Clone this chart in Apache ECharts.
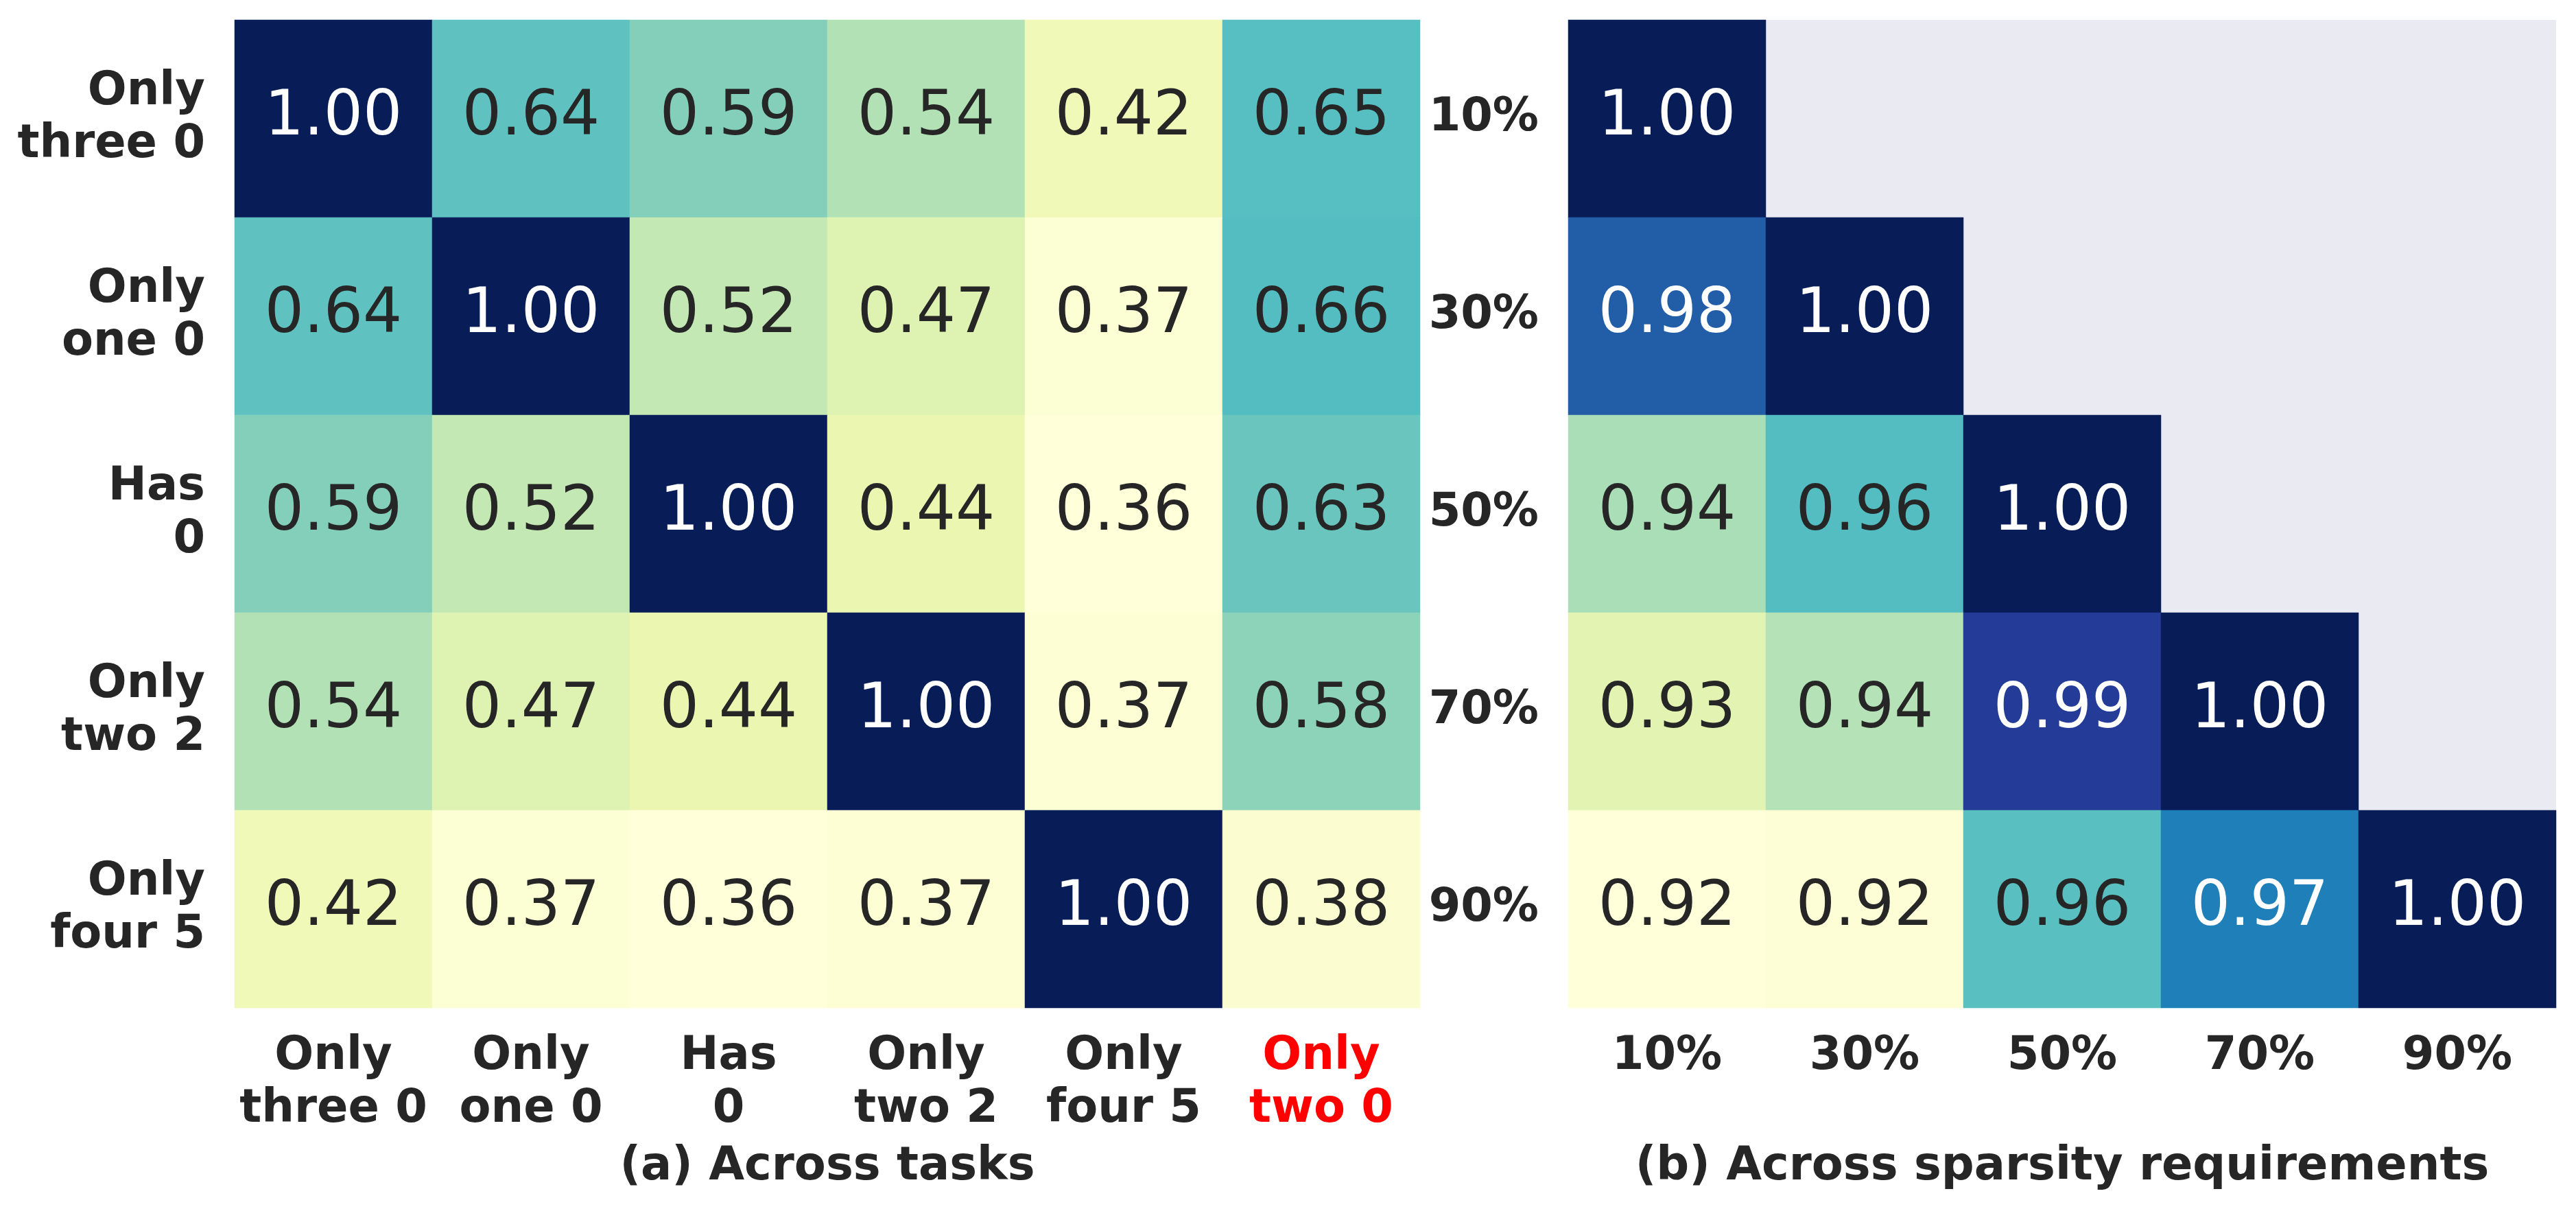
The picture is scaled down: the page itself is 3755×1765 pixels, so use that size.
<!DOCTYPE html>
<html><head><meta charset="utf-8">
<script src="https://cdn.jsdelivr.net/npm/echarts@6/dist/echarts.min.js"></script>
<style>html,body{margin:0;padding:0;background:#fff}#chart{width:3755px;height:1765px}</style>
</head><body><div id="chart"></div>
<script>
// ---- data ----
const taskRows = ['Only\nthree 0', 'Only\none 0', 'Has\n0', 'Only\ntwo 2', 'Only\nfour 5'];
const taskCols = ['Only\nthree 0', 'Only\none 0', 'Has\n0', 'Only\ntwo 2', 'Only\nfour 5', 'Only\ntwo 0'];
const highlightedCol = 'Only\ntwo 0';
const taskValues = [
  [1.00, 0.64, 0.594, 0.542, 0.424, 0.652],
  [0.64, 1.00, 0.524, 0.472, 0.372, 0.656],
  [0.594, 0.524, 1.00, 0.444, 0.36, 0.628],
  [0.542, 0.472, 0.444, 1.00, 0.37, 0.584],
  [0.424, 0.372, 0.36, 0.37, 1.00, 0.378]
];
const sparsityLevels = ['10%', '30%', '50%', '70%', '90%'];
const sparsityValues = [
  [1.00],
  [0.98, 1.00],
  [0.944, 0.957, 1.00],
  [0.933, 0.9425, 0.988, 1.00],
  [0.92, 0.921, 0.956, 0.9735, 1.00]
];
const titleA = '(a) Across tasks';
const titleB = '(b) Across sparsity requirements';

// ---- colormap (YlGnBu) ----
const YlGnBu = ['#ffffd9', '#edf8b1', '#c7e9b4', '#7fcdbb', '#41b6c4', '#1d91c0', '#225ea8', '#253494', '#081d58'];
function hex2rgb(h) { return [1, 3, 5].map(i => parseInt(h.substr(i, 2), 16)); }
function cmap(t) {
  t = Math.max(0, Math.min(1, t));
  const p = t * (YlGnBu.length - 1), i = Math.min(Math.floor(p), YlGnBu.length - 2), f = p - i;
  const a = hex2rgb(YlGnBu[i]), b = hex2rgb(YlGnBu[i + 1]);
  return a.map((v, k) => v + (b[k] - v) * f);
}
function lum(rgb) {
  const l = rgb.map(c => { c /= 255; return c <= 0.03928 ? c / 12.92 : Math.pow((c + 0.055) / 1.055, 2.4); });
  return 0.2126 * l[0] + 0.7152 * l[1] + 0.0722 * l[2];
}
function buildData(values) {
  const flat = values.flat();
  const mn = Math.min(...flat), mx = Math.max(...flat);
  const data = [];
  values.forEach((row, r) => row.forEach((v, c) => {
    const col = cmap((v - mn) / (mx - mn));
    data.push({ value: [c, r, v], label: { color: lum(col) < 0.408 ? '#ffffff' : '#262626' } });
  }));
  return { data, mn, mx };
}
const A = buildData(taskValues);
const B = buildData(sparsityValues);

const FONT = 'DejaVu Sans';
const TXT = '#262626';
function catAxis(data, gridIndex, isX, inverse) {
  return {
    type: 'category', gridIndex, data, inverse: !!inverse,
    axisLine: { show: false }, axisTick: { show: false },
    splitLine: { show: false }, splitArea: { show: false },
    axisLabel: {
      fontFamily: FONT, fontSize: 67, fontWeight: 'bold', color: TXT,
      lineHeight: 77, margin: isX ? 33 : 43, interval: 0
    }
  };
}
const heatLabel = { show: true, fontFamily: FONT, fontSize: 90,
  formatter: p => (Math.round(p.value[2] * 100) / 100).toFixed(2) };

const chart = echarts.init(document.getElementById('chart'), null, { renderer: 'canvas' });
chart.setOption({
  backgroundColor: '#ffffff',
  animation: false,
  textStyle: { fontFamily: FONT },
  title: [
    { text: titleA, left: 1206, top: 1662, textAlign: 'center', padding: 0,
      textStyle: { fontFamily: FONT, fontSize: 67, fontWeight: 'bold', color: TXT, lineHeight: 80 } },
    { text: titleB, left: 3006, top: 1662, textAlign: 'center', padding: 0,
      textStyle: { fontFamily: FONT, fontSize: 67, fontWeight: 'bold', color: TXT, lineHeight: 80 } }
  ],
  grid: [
    { left: 342, top: 29, width: 1728, height: 1440, containLabel: false },
    { left: 2286, top: 29, width: 1440, height: 1440, containLabel: false,
      show: true, backgroundColor: '#EAEAF2', borderWidth: 0 }
  ],
  xAxis: [
    catAxis(taskCols.map(c => c === highlightedCol ? { value: c, textStyle: { color: '#ff0000' } } : c), 0, true),
    catAxis(sparsityLevels, 1, true)
  ],
  yAxis: [
    catAxis(taskRows, 0, false, true),
    catAxis(sparsityLevels, 1, false, true)
  ],
  visualMap: [
    { type: 'continuous', seriesIndex: 0, min: A.mn, max: A.mx, show: false, dimension: 2,
      inRange: { color: YlGnBu } },
    { type: 'continuous', seriesIndex: 1, min: B.mn, max: B.mx, show: false, dimension: 2,
      inRange: { color: YlGnBu } }
  ],
  series: [
    { type: 'heatmap', xAxisIndex: 0, yAxisIndex: 0, data: A.data, label: heatLabel,
      itemStyle: { borderWidth: 0 }, emphasis: { disabled: true } },
    { type: 'heatmap', xAxisIndex: 1, yAxisIndex: 1, data: B.data, label: heatLabel,
      itemStyle: { borderWidth: 0 }, emphasis: { disabled: true } }
  ]
});
</script>
</body></html>
